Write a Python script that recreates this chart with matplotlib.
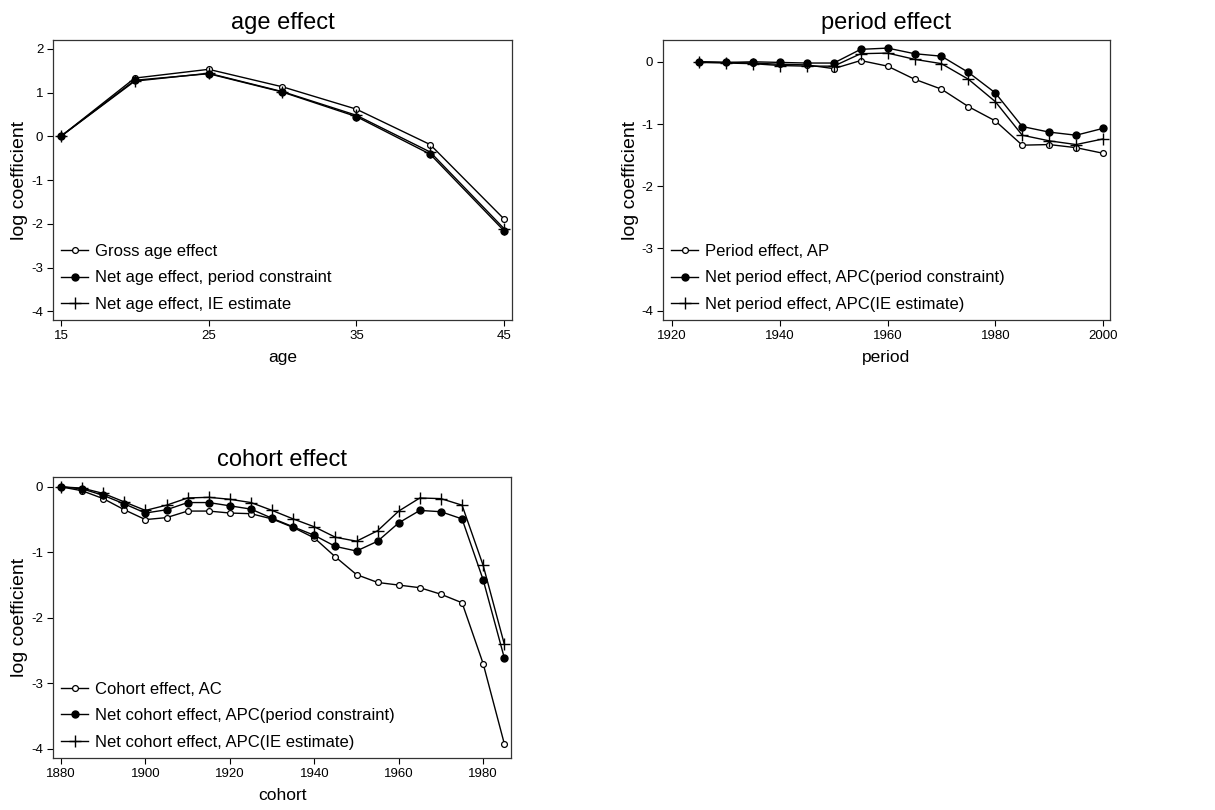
import matplotlib
matplotlib.use("Agg")
import matplotlib.pyplot as plt

plt.rcParams['font.family'] = ['Liberation Sans', 'DejaVu Sans']
plt.rcParams['axes.unicode_minus'] = False

# --- data ---
ages = [15, 20, 25, 30, 35, 40, 45]
age_gross = [0.0, 1.33, 1.53, 1.13, 0.62, -0.19, -1.89]
age_net = [0.0, 1.28, 1.43, 1.01, 0.45, -0.41, -2.16]
age_ie = [0.0, 1.26, 1.44, 1.02, 0.48, -0.36, -2.11]

periods = [1925, 1930, 1935, 1940, 1945, 1950, 1955, 1960,
           1965, 1970, 1975, 1980, 1985, 1990, 1995, 2000]
per_ap = [0.0, -0.01, -0.02, -0.04, -0.05, -0.11, 0.02, -0.07,
          -0.28, -0.44, -0.72, -0.95, -1.34, -1.33, -1.38, -1.47]
per_net = [0.0, -0.01, 0.0, -0.01, -0.02, -0.02, 0.20, 0.22,
           0.13, 0.09, -0.17, -0.50, -1.04, -1.13, -1.18, -1.07]
per_ie = [-0.01, -0.02, -0.03, -0.06, -0.07, -0.07, 0.13, 0.14,
          0.04, -0.03, -0.28, -0.64, -1.18, -1.27, -1.33, -1.24]

cohorts = [1880, 1885, 1890, 1895, 1900, 1905, 1910, 1915, 1920, 1925, 1930,
           1935, 1940, 1945, 1950, 1955, 1960, 1965, 1970, 1975, 1980, 1985]
coh_ac = [0.0, -0.06, -0.18, -0.35, -0.50, -0.47, -0.37, -0.37, -0.40, -0.41, -0.49,
          -0.62, -0.78, -1.07, -1.34, -1.46, -1.50, -1.54, -1.64, -1.77, -2.70, -3.92]
coh_net = [0.0, -0.03, -0.13, -0.26, -0.40, -0.35, -0.24, -0.24, -0.29, -0.34, -0.48,
           -0.61, -0.74, -0.91, -0.98, -0.83, -0.55, -0.36, -0.38, -0.49, -1.42, -2.61]
coh_ie = [0.0, -0.02, -0.10, -0.23, -0.36, -0.28, -0.17, -0.16, -0.19, -0.24, -0.36,
          -0.49, -0.61, -0.77, -0.83, -0.67, -0.37, -0.17, -0.18, -0.28, -1.20, -2.40]

age_labels = ['Gross age effect', 'Net age effect, period constraint',
              'Net age effect, IE estimate']
per_labels = ['Period effect, AP', 'Net period effect, APC(period constraint)',
              'Net period effect, APC(IE estimate)']
coh_labels = ['Cohort effect, AC', 'Net cohort effect, APC(period constraint)',
              'Net cohort effect, APC(IE estimate)']

# --- figure ---
fig = plt.figure(figsize=(12.15, 8.1), dpi=100)
ax_a = fig.add_axes([0.0436, 0.6049, 0.3778, 0.3457])
ax_p = fig.add_axes([0.5457, 0.6049, 0.3679, 0.3457])
ax_c = fig.add_axes([0.0436, 0.0642, 0.3770, 0.3469])


def draw(ax, x, ys, labels, title, xlabel):
    styles = [dict(marker='o', markersize=4.2, markerfacecolor='white', markeredgewidth=0.9),
              dict(marker='o', markersize=5, markerfacecolor='black'),
              dict(marker='+', markersize=8, markeredgewidth=1.0)]
    for y, lab, st in zip(ys, labels, styles):
        ax.plot(x, y, color='black', linewidth=1.0, label=lab, **st)
    ax.set_title(title, fontsize=17, pad=8)
    ax.set_xlabel(xlabel, fontsize=12.5, labelpad=6)
    ax.set_ylabel('log coefficient', fontsize=14, labelpad=2)
    ax.tick_params(direction='out', length=4, width=0.8, labelsize=9.5,
                   top=False, right=False, pad=3)
    for s in ax.spines.values():
        s.set_linewidth(0.9)
        s.set_color('#333333')
    ax.legend(loc='lower left', frameon=False, fontsize=12, handlelength=1.6,
              handletextpad=0.4, labelspacing=0.68, borderaxespad=0.2,
              borderpad=0.3)


draw(ax_a, ages, [age_gross, age_net, age_ie], age_labels, 'age effect', 'age')
ax_a.set_xlim(14.46, 45.54)
ax_a.set_ylim(-4.2, 2.2)
ax_a.set_xticks([15, 25, 35, 45])
ax_a.set_yticks([2, 1, 0, -1, -2, -3, -4])

draw(ax_p, periods, [per_ap, per_net, per_ie], per_labels, 'period effect', 'period')
ax_p.set_xlim(1918.3, 2001.3)
ax_p.set_ylim(-4.15, 0.35)
ax_p.set_xticks([1920, 1940, 1960, 1980, 2000])
ax_p.set_yticks([0, -1, -2, -3, -4])

draw(ax_c, cohorts, [coh_ac, coh_net, coh_ie], coh_labels, 'cohort effect', 'cohort')
ax_c.set_xlim(1878.1, 1986.6)
ax_c.set_ylim(-4.14, 0.15)
ax_c.set_xticks([1880, 1900, 1920, 1940, 1960, 1980])
ax_c.set_yticks([0, -1, -2, -3, -4])

fig.savefig('out.png', dpi=100)
